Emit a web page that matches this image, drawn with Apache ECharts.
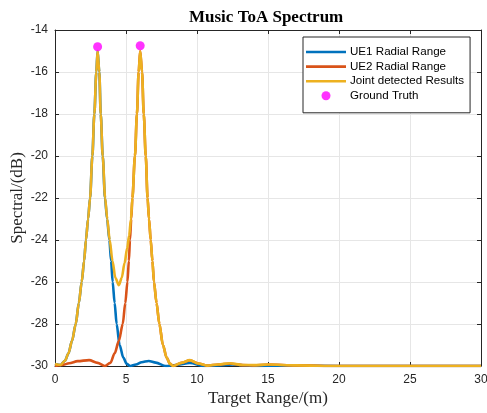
<!DOCTYPE html>
<html>
<head>
<meta charset="utf-8">
<script src="https://cdn.jsdelivr.net/npm/echarts@6/dist/echarts.min.js"></script>
<style>
    html, body {margin: 0; padding: 0; background: #fff;}
    #main {width: 487px; height: 413px;}
</style>
</head>
<body>
<div id="main"></div>
<script>
    //数据 (x: m, y: dB)
    var ue1 = [[0, -29.9], [0.4, -29.95], [0.7, -29.75], [0.95, -29.4], [1.2, -28.8], [1.46, -28], [1.68, -27], [1.88, -26], [2.05, -25], [2.18, -24], [2.33, -23], [2.47, -22], [2.63, -20], [2.77, -18], [2.91, -16], [3.0, -15.0], [3.12, -16], [3.22, -18], [3.36, -20], [3.52, -22], [3.67, -23], [3.83, -24], [3.95, -25], [4.06, -26], [4.2, -27], [4.34, -28], [4.55, -29], [4.81, -29.6], [5.05, -29.9], [5.3, -30], [5.7, -29.93], [6.1, -29.82], [6.6, -29.76], [7.1, -29.84], [7.8, -30], [8.5, -29.95], [9.5, -29.86], [10.5, -30], [11.5, -29.97], [12.5, -29.93], [14, -30], [16, -29.98], [20, -30], [25, -30], [30, -30]];
    var ue2 = [[0, -30], [0.5, -29.95], [1.0, -29.87], [1.6, -29.77], [2.4, -29.72], [3.0, -29.85], [3.5, -30], [3.9, -29.85], [4.2, -29.4], [4.5, -28.8], [4.77, -28], [4.95, -27], [5.1, -26], [5.2, -25], [5.28, -24], [5.37, -23], [5.45, -22], [5.63, -20], [5.77, -18], [5.89, -16], [6.0, -15.0], [6.13, -16], [6.25, -18], [6.39, -20], [6.52, -22], [6.62, -23], [6.74, -24], [6.86, -25], [6.97, -26], [7.15, -27], [7.35, -28], [7.6, -29], [7.86, -29.6], [8.1, -29.9], [8.33, -30], [8.9, -29.85], [9.5, -29.73], [10.1, -29.88], [10.7, -29.98], [11.5, -29.93], [12.3, -29.88], [13.2, -29.96], [14, -29.97], [15, -29.93], [17, -29.97], [20, -30], [25, -30], [30, -30]];
    var joint = [[0, -29.9], [0.4, -29.95], [0.7, -29.75], [0.95, -29.4], [1.2, -28.8], [1.46, -28], [1.68, -27], [1.88, -26], [2.05, -25], [2.18, -24], [2.33, -23], [2.47, -22], [2.63, -20], [2.77, -18], [2.91, -16], [3.0, -15.0], [3.12, -16], [3.22, -18], [3.36, -20], [3.53, -22], [3.68, -23], [3.85, -24], [4.05, -25], [4.25, -25.8], [4.5, -26.15], [4.7, -25.8], [4.9, -25.1], [5.08, -24.4], [5.22, -23.8], [5.35, -23], [5.45, -22], [5.63, -20], [5.77, -18], [5.89, -16], [6.0, -15.0], [6.13, -16], [6.25, -18], [6.39, -20], [6.52, -22], [6.62, -23], [6.74, -24], [6.86, -25], [6.97, -26], [7.15, -27], [7.35, -28], [7.6, -29], [7.86, -29.6], [8.1, -29.9], [8.33, -30], [8.9, -29.85], [9.5, -29.72], [10.1, -29.88], [10.7, -29.98], [11.5, -29.93], [12.3, -29.87], [13.2, -29.95], [14, -29.96], [15, -29.93], [17, -29.97], [20, -30], [25, -30], [30, -30]];
    var truth = [[3, -14.8], [6, -14.75]];
    var names = ['UE1 Radial Range', 'UE2 Radial Range', 'Joint detected Results', 'Ground Truth'];

    var axisColor = '#262626';
    var lbl = {color: axisColor, fontSize: 12, fontFamily: 'Liberation Sans'};
    var lineIcon = 'path://M0,0H40V2.6H0Z';//图例线条

    function lineSeries(name, data, color) {
        return {
            name: name, type: 'line', data: data,
            symbol: 'none', smooth: 0.3, smoothMonotone: 'x',
            lineStyle: {color: color, width: 2.6},
            itemStyle: {color: color},
            z: 3
        };
    }

    //轴 - 上下左右都画
    function xAx(pos, show) {
        return {
            type: 'value', position: pos, min: 0, max: 30, interval: 5,
            name: show ? 'Target Range/(m)' : '', nameLocation: 'middle', nameGap: 24,
            nameMoveOverlap: false,
            nameTextStyle: {fontFamily: 'Liberation Serif', fontSize: 17, color: axisColor},
            axisLine: {show: true, onZero: false, lineStyle: {color: axisColor, width: 1}},
            axisTick: {show: true, inside: true, length: 4, lineStyle: {color: axisColor}},
            axisLabel: Object.assign({show: show, margin: 8}, lbl),
            splitLine: {show: show, lineStyle: {color: '#e6e6e6', width: 1}}
        };
    }
    function yAx(pos, show) {
        return {
            type: 'value', position: pos, min: -30, max: -14, interval: 2,
            name: show ? 'Spectral/(dB)' : '', nameLocation: 'middle', nameGap: 29,
            nameMoveOverlap: false,
            nameTextStyle: {fontFamily: 'Liberation Serif', fontSize: 17, color: axisColor},
            axisLine: {show: true, onZero: false, lineStyle: {color: axisColor, width: 1}},
            axisTick: {show: true, inside: true, length: 4, lineStyle: {color: axisColor}},
            axisLabel: Object.assign({show: show, margin: 7}, lbl),
            splitLine: {show: show, lineStyle: {color: '#e6e6e6', width: 1}}
        };
    }

    var option = {
        backgroundColor: '#fff',
        animation: false,
        title: {
            text: 'Music ToA Spectrum', left: 184, top: 4,
            textStyle: {fontFamily: 'Liberation Serif', fontWeight: 'bold', fontSize: 17, color: '#000'}
        },
        grid: {left: 55, right: 6, top: 30, bottom: 47, containLabel: false, outerBoundsMode: 'none'},
        legend: {
            left: 303, top: 37, orient: 'vertical',
            backgroundColor: '#fff', borderColor: axisColor, borderWidth: 1,
            padding: [9, 6, 11, 3], itemGap: 2.6, itemWidth: 40, itemHeight: 9,
            textStyle: {fontFamily: 'Liberation Sans', fontSize: 11.6, color: '#000', padding: [0, 0, 0, -1]},
            data: [
                {name: names[0], icon: lineIcon},
                {name: names[1], icon: lineIcon},
                {name: names[2], icon: lineIcon},
                {name: names[3], icon: 'circle'}
            ]
        },
        xAxis: [xAx('bottom', true), xAx('top', false)],
        yAxis: [yAx('left', true), yAx('right', false)],
        series: [
            lineSeries(names[0], ue1, '#0072BD'),
            lineSeries(names[1], ue2, '#D95319'),
            lineSeries(names[2], joint, '#EDB120'),
            {
                name: names[3], type: 'scatter', data: truth,
                symbol: 'circle', symbolSize: 9,
                itemStyle: {color: '#FF00FF'}, z: 5
            }
        ]
    };

    var chart = echarts.init(document.getElementById('main'));
    chart.setOption(option);
</script>
</body>
</html>
